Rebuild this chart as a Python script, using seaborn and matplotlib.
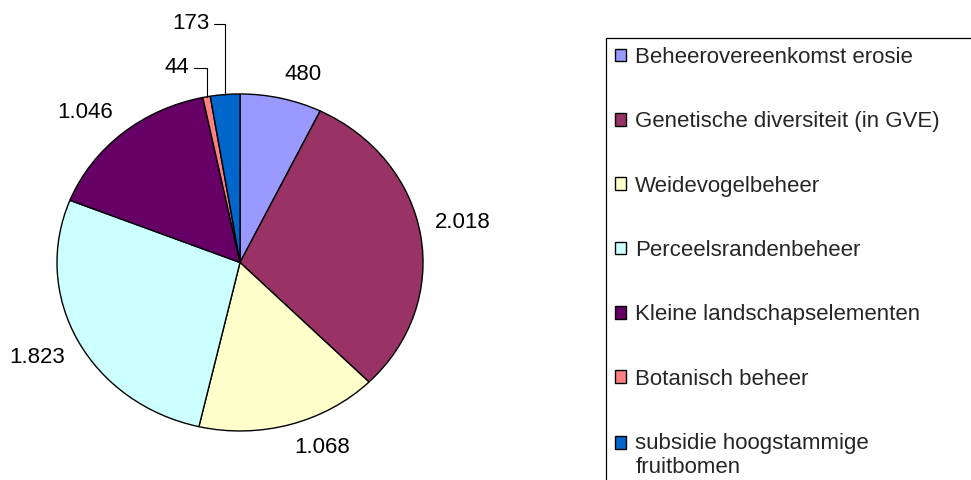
import numpy as np
import matplotlib
matplotlib.use("Agg")
import matplotlib.pyplot as plt
from matplotlib.patches import Rectangle
from matplotlib.lines import Line2D
from matplotlib.legend_handler import HandlerPatch
import seaborn as sns

categories = [
    "Beheerovereenkomst erosie",
    "Genetische diversiteit (in GVE)",
    "Weidevogelbeheer",
    "Perceelsrandenbeheer",
    "Kleine landschapselementen",
    "Botanisch beheer",
    "subsidie hoogstammige\nfruitbomen",
]
values = [480, 2018, 1068, 1823, 1046, 44, 173]
colors = ["#9999FF", "#993366", "#FFFFCC", "#CCFFFF", "#660066", "#FF8080", "#0066CC"]

sns.set_theme(style="white")
plt.rcParams["font.family"] = ["Liberation Sans", "DejaVu Sans"]
fs = 16
line_sp = 1.2

fig = plt.figure(figsize=(9.71, 4.80), dpi=100)
ax = fig.add_axes([0.01159, 0.01438, 0.4712, 0.8776])

wedges, _ = ax.pie(values, colors=colors, startangle=90, counterclock=False,
                   wedgeprops=dict(edgecolor="black", linewidth=1.0))
ax.set_aspect("auto")
ax.set_xlim(-1.25, 1.25)
ax.set_ylim(-1.25, 1.25)
ax.axis("off")

# offsets (pixels) for the labels of the small slices that get a leader line
leader_offsets = {5: (-17, 29), 6: (-16, 71)}
total = sum(values)
for i, (w, v) in enumerate(zip(wedges, values)):
    txt = f"{v:,}".replace(",", ".")
    ang = np.deg2rad((w.theta1 + w.theta2) / 2)
    x, y = np.cos(ang), np.sin(ang)
    if v / total < 0.03:
        ax.annotate(txt, xy=(x, y), xytext=leader_offsets[i],
                    textcoords="offset pixels", ha="right", va="center",
                    fontsize=fs, color="black",
                    arrowprops=dict(arrowstyle="-", color="black", lw=0.8,
                                    connectionstyle="angle,angleA=0,angleB=90,rad=0",
                                    shrinkA=1, shrinkB=0, relpos=(1, 0.5)))
    else:
        r = 1.08
        ax.text(r * x, r * y, txt, fontsize=fs, color="black", clip_on=False,
                ha="left" if x > 0 else "right",
                va="bottom" if y > 0 else "top")


def top_line_patch(legend, orig_handle, xdescent, ydescent, width, height, fontsize):
    # put the marker next to the first line of a two-line label
    return Rectangle((-xdescent, -ydescent + 0.5 * line_sp * fontsize), width, height)


leg_left, leg_top = 606 / 971, 1 - 38 / 480
leg = fig.legend(wedges, categories, loc="upper left",
                 bbox_to_anchor=(leg_left, leg_top),
                 bbox_transform=fig.transFigure, borderaxespad=0,
                 fontsize=fs, frameon=False,
                 handlelength=0.52, handleheight=0.52, handletextpad=0.4,
                 borderpad=0.4, labelspacing=1.95,
                 handler_map={wedges[-1]: HandlerPatch(patch_func=top_line_patch)})
for t in leg.get_texts():
    t.set_linespacing(line_sp)

# legend box runs off the right and bottom edge, so only its top and left sides show
fig.add_artist(Line2D([leg_left, 1.0], [leg_top, leg_top], transform=fig.transFigure,
                      color="black", linewidth=0.9))
fig.add_artist(Line2D([leg_left, leg_left], [0.0, leg_top], transform=fig.transFigure,
                      color="black", linewidth=0.9))

fig.savefig("out.png", dpi=100, facecolor="white")
